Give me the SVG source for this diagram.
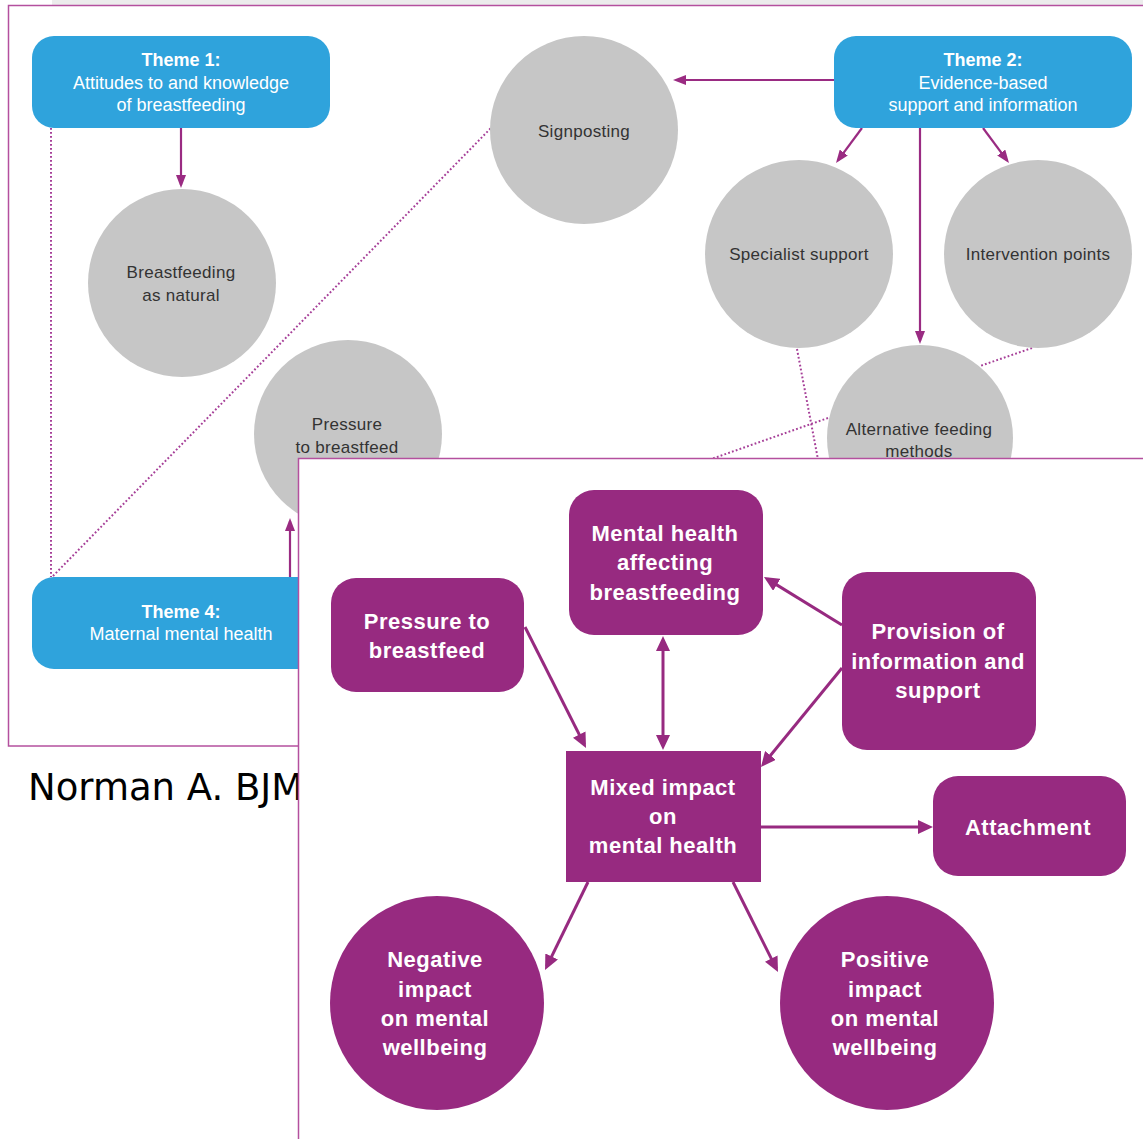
<svg xmlns="http://www.w3.org/2000/svg" width="1143" height="1139" viewBox="0 0 1143 1139">
<style>
.theme{fill:#2fa3dc}
.grey{fill:#c6c6c6}
.purp{fill:#972a80}
.tw{font-family:"Liberation Sans",Arial,sans-serif;font-size:18px;fill:#ffffff;text-anchor:middle}
.tb{font-weight:bold}
.tg{font-family:"Liberation Sans",Arial,sans-serif;font-size:17px;fill:#333333;text-anchor:middle;letter-spacing:0.3px}
.tp{font-family:"Liberation Sans",Arial,sans-serif;font-size:22px;font-weight:bold;fill:#ffffff;text-anchor:middle;letter-spacing:0.5px}
.arr{stroke:#9a2b82;stroke-width:2.2;fill:none;marker-end:url(#ahb)}
.arrf{stroke:#972a80;stroke-width:3;fill:none;marker-end:url(#ahf)}
.dot{stroke:#a63f98;stroke-width:2;stroke-dasharray:1.8 2.2;fill:none}
.frame{fill:none;stroke:#b4509e;stroke-width:1.5}
</style>
<defs>
<marker id="ahb" markerUnits="userSpaceOnUse" markerWidth="13" markerHeight="10" refX="10" refY="5" orient="auto">
<path d="M0,0 L13,5 L0,10 z" fill="#9a2b82"/>
</marker>
<marker id="ahf" markerUnits="userSpaceOnUse" markerWidth="15" markerHeight="14" refX="11" refY="7" orient="auto-start-reverse">
<path d="M0,0 L15,7 L0,14 z" fill="#972a80"/>
</marker>
</defs>
<rect x="0" y="0" width="1143" height="1139" fill="#ffffff"/>
<!-- back panel -->
<rect x="52" y="0" width="1091" height="5" fill="#ececec"/>
<rect class="frame" x="8.5" y="5.5" width="1200" height="740.5"/>
<g id="connectors-back">
<line class="dot" x1="51" y1="128" x2="51" y2="577"/>
<line class="dot" x1="53" y1="576" x2="491" y2="128"/>
<line class="dot" x1="797" y1="349" x2="820" y2="470"/>
<line class="dot" x1="1032" y1="348" x2="980" y2="366"/>
<line class="dot" x1="828" y1="418" x2="700" y2="463"/>
<line class="arr" x1="181" y1="128" x2="181" y2="185"/>
<line class="arr" x1="835" y1="80" x2="676" y2="80"/>
<line class="arr" x1="862" y1="128" x2="837.8" y2="160.6"/>
<line class="arr" x1="920" y1="128" x2="920" y2="341"/>
<line class="arr" x1="983" y1="128" x2="1007.2" y2="160.6"/>
<line class="arr" x1="290" y1="577" x2="290" y2="521"/>
</g>
<g id="theme1">
<rect class="theme" x="32" y="36" width="298" height="92" rx="22"/>
<text class="tw tb" x="181" y="66">Theme 1:</text>
<text class="tw" x="181" y="89">Attitudes to and knowledge</text>
<text class="tw" x="181" y="111">of breastfeeding</text>
</g>
<g id="theme2">
<rect class="theme" x="834" y="36" width="298" height="92" rx="22"/>
<text class="tw tb" x="983" y="66">Theme 2:</text>
<text class="tw" x="983" y="89">Evidence-based</text>
<text class="tw" x="983" y="111">support and information</text>
</g>
<g id="theme4">
<rect class="theme" x="32" y="577" width="298" height="92" rx="22"/>
<text class="tw tb" x="181" y="618">Theme 4:</text>
<text class="tw" x="181" y="640">Maternal mental health</text>
</g>
<g id="breastfeeding-natural">
<circle class="grey" cx="182" cy="283" r="94"/>
<text class="tg" x="181" y="278">Breastfeeding</text>
<text class="tg" x="181" y="301">as natural</text>
</g>
<g id="signposting">
<circle class="grey" cx="584" cy="130" r="94"/>
<text class="tg" x="584" y="137">Signposting</text>
</g>
<g id="specialist-support">
<circle class="grey" cx="799" cy="254" r="94"/>
<text class="tg" x="799" y="260">Specialist support</text>
</g>
<g id="intervention-points">
<circle class="grey" cx="1038" cy="254" r="94"/>
<text class="tg" x="1038" y="260">Intervention points</text>
</g>
<g id="alternative-feeding">
<circle class="grey" cx="920" cy="438" r="93"/>
<text class="tg" x="919" y="435">Alternative feeding</text>
<text class="tg" x="919" y="457">methods</text>
</g>
<g id="pressure-circle">
<circle class="grey" cx="348" cy="434" r="94"/>
<text class="tg" x="347" y="430">Pressure</text>
<text class="tg" x="347" y="453">to breastfeed</text>
</g>
<text x="28" y="800" font-family="DejaVu Sans, sans-serif" font-size="37" fill="#000000">Norman A. BJM</text>
<!-- front panel -->
<rect x="298.5" y="458.5" width="900" height="720" fill="#ffffff" stroke="#b4509e" stroke-width="1.5"/>
<g id="connectors-front">
<line class="arrf" x1="525" y1="627" x2="584.2" y2="744.4"/>
<line class="arrf" x1="663" y1="640" x2="663" y2="746" marker-start="url(#ahf)"/>
<line class="arrf" x1="842" y1="625" x2="767.4" y2="579.1"/>
<line class="arrf" x1="842" y1="668" x2="763.5" y2="763.9"/>
<line class="arrf" x1="761" y1="827" x2="929" y2="827"/>
<line class="arrf" x1="588" y1="882" x2="546.8" y2="966.4"/>
<line class="arrf" x1="733" y1="882" x2="776.2" y2="968.4"/>
</g>
<g id="mental-health-affecting">
<rect class="purp" x="569" y="490" width="194" height="145" rx="25"/>
<text class="tp" x="665" y="541">Mental health</text>
<text class="tp" x="665" y="570">affecting</text>
<text class="tp" x="665" y="600">breastfeeding</text>
</g>
<g id="pressure-box">
<rect class="purp" x="331" y="578" width="193" height="114" rx="25"/>
<text class="tp" x="427" y="629">Pressure to</text>
<text class="tp" x="427" y="658">breastfeed</text>
</g>
<g id="provision">
<rect class="purp" x="842" y="572" width="194" height="178" rx="25"/>
<text class="tp" x="938" y="639">Provision of</text>
<text class="tp" x="938" y="669">information and</text>
<text class="tp" x="938" y="698">support</text>
</g>
<g id="attachment">
<rect class="purp" x="933" y="776" width="193" height="100" rx="25"/>
<text class="tp" x="1028" y="835">Attachment</text>
</g>
<g id="mixed-impact">
<rect class="purp" x="566" y="751" width="195" height="131"/>
<text class="tp" x="663" y="795">Mixed impact</text>
<text class="tp" x="663" y="824">on</text>
<text class="tp" x="663" y="853">mental health</text>
</g>
<g id="negative-impact">
<circle class="purp" cx="437" cy="1003" r="107"/>
<text class="tp" x="435" y="967">Negative</text>
<text class="tp" x="435" y="997">impact</text>
<text class="tp" x="435" y="1026">on mental</text>
<text class="tp" x="435" y="1055">wellbeing</text>
</g>
<g id="positive-impact">
<circle class="purp" cx="887" cy="1003" r="107"/>
<text class="tp" x="885" y="967">Positive</text>
<text class="tp" x="885" y="997">impact</text>
<text class="tp" x="885" y="1026">on mental</text>
<text class="tp" x="885" y="1055">wellbeing</text>
</g>
</svg>
